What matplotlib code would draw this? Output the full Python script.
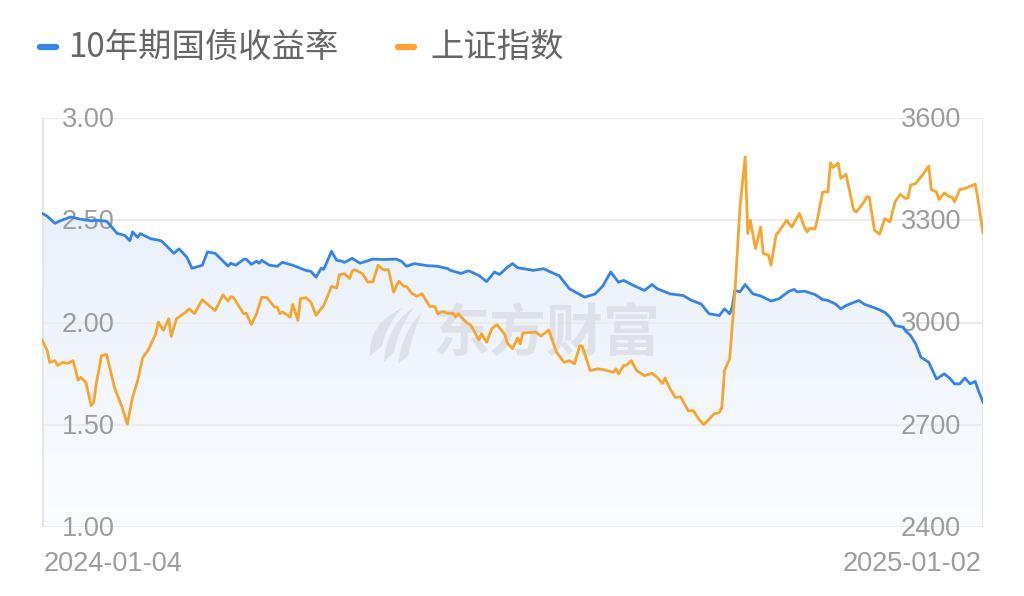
import numpy as np
import pandas as pd
import matplotlib
matplotlib.use('Agg')
import matplotlib.pyplot as plt
import matplotlib.dates as mdates
import matplotlib.transforms as mtrans
from matplotlib.path import Path
from matplotlib.patches import PathPatch
from matplotlib.lines import Line2D
from matplotlib.colors import LinearSegmentedColormap

# ---- data ----
bond_dates = ['2024-01-04', '2024-01-06', '2024-01-09', '2024-01-11', '2024-01-15', '2024-01-19',
              '2024-01-23', '2024-01-25', '2024-01-29', '2024-01-31', '2024-02-02', '2024-02-05',
              '2024-02-07', '2024-02-08', '2024-02-10', '2024-02-11', '2024-02-15', '2024-02-19',
              '2024-02-21', '2024-02-24', '2024-02-26', '2024-02-29', '2024-03-02', '2024-03-06',
              '2024-03-08', '2024-03-11', '2024-03-16', '2024-03-17', '2024-03-19', '2024-03-22',
              '2024-03-23', '2024-03-25', '2024-03-27', '2024-03-28', '2024-03-29', '2024-04-01',
              '2024-04-04', '2024-04-06', '2024-04-10', '2024-04-15', '2024-04-17', '2024-04-19',
              '2024-04-21', '2024-04-22', '2024-04-25', '2024-04-27', '2024-04-29', '2024-04-30',
              '2024-05-03', '2024-05-06', '2024-05-11', '2024-05-15', '2024-05-20', '2024-05-22',
              '2024-05-24', '2024-05-27', '2024-06-01', '2024-06-05', '2024-06-09', '2024-06-10',
              '2024-06-14', '2024-06-17', '2024-06-21', '2024-06-24', '2024-06-27', '2024-06-29',
              '2024-07-02', '2024-07-04', '2024-07-06', '2024-07-12', '2024-07-16', '2024-07-21',
              '2024-07-22', '2024-07-26', '2024-07-29', '2024-08-01', '2024-08-05', '2024-08-08',
              '2024-08-11', '2024-08-14', '2024-08-16', '2024-08-20', '2024-08-24', '2024-08-27',
              '2024-08-29', '2024-09-03', '2024-09-08', '2024-09-11', '2024-09-15', '2024-09-18',
              '2024-09-22', '2024-09-24', '2024-09-26', '2024-09-27', '2024-09-28', '2024-09-30',
              '2024-10-02', '2024-10-05', '2024-10-08', '2024-10-12', '2024-10-15', '2024-10-19',
              '2024-10-21', '2024-10-22', '2024-10-25', '2024-10-29', '2024-11-01', '2024-11-03',
              '2024-11-06', '2024-11-08', '2024-11-10', '2024-11-15', '2024-11-17', '2024-11-22',
              '2024-11-25', '2024-11-27', '2024-11-29', '2024-12-02', '2024-12-03', '2024-12-05',
              '2024-12-07', '2024-12-09', '2024-12-12', '2024-12-15', '2024-12-18', '2024-12-20',
              '2024-12-22', '2024-12-24', '2024-12-26', '2024-12-28', '2024-12-30', '2024-12-31',
              '2025-01-02']
bond_yield = [2.534, 2.52, 2.485, 2.497, 2.516, 2.505,
              2.497, 2.50, 2.495, 2.467, 2.436, 2.426,
              2.40, 2.443, 2.416, 2.435, 2.41, 2.40,
              2.377, 2.338, 2.36, 2.32, 2.265, 2.28,
              2.345, 2.338, 2.276, 2.29, 2.28, 2.309,
              2.31, 2.284, 2.30, 2.29, 2.304, 2.28,
              2.275, 2.294, 2.28, 2.255, 2.25, 2.222,
              2.265, 2.26, 2.348, 2.304, 2.30, 2.294,
              2.314, 2.29, 2.31, 2.308, 2.31, 2.30,
              2.275, 2.288, 2.278, 2.275, 2.263, 2.255,
              2.24, 2.253, 2.23, 2.20, 2.247, 2.235,
              2.27, 2.288, 2.268, 2.255, 2.263, 2.234,
              2.23, 2.165, 2.144, 2.124, 2.14, 2.18,
              2.247, 2.197, 2.206, 2.18, 2.157, 2.186,
              2.165, 2.14, 2.132, 2.11, 2.09, 2.043,
              2.034, 2.067, 2.043, 2.075, 2.157, 2.15,
              2.186, 2.14, 2.13, 2.105, 2.116, 2.153,
              2.162, 2.15, 2.153, 2.137, 2.112, 2.108,
              2.09, 2.067, 2.083, 2.108, 2.09, 2.067,
              2.05, 2.026, 1.985, 1.977, 1.96, 1.936,
              1.895, 1.83, 1.806, 1.724, 1.749, 1.729,
              1.70, 1.70, 1.729, 1.70, 1.712, 1.675,
              1.61]

sh_dates = ['2024-01-04', '2024-01-06', '2024-01-07', '2024-01-09', '2024-01-10', '2024-01-12',
            '2024-01-14', '2024-01-16', '2024-01-18', '2024-01-19', '2024-01-21', '2024-01-23',
            '2024-01-24', '2024-01-25', '2024-01-27', '2024-01-29', '2024-01-30', '2024-02-01',
            '2024-02-03', '2024-02-04', '2024-02-06', '2024-02-08', '2024-02-10', '2024-02-12',
            '2024-02-14', '2024-02-17', '2024-02-18', '2024-02-20', '2024-02-22', '2024-02-23',
            '2024-02-25', '2024-02-28', '2024-03-01', '2024-03-03', '2024-03-06', '2024-03-09',
            '2024-03-11', '2024-03-14', '2024-03-16', '2024-03-17', '2024-03-18', '2024-03-22',
            '2024-03-23', '2024-03-25', '2024-03-27', '2024-03-29', '2024-03-31', '2024-04-03',
            '2024-04-04', '2024-04-05', '2024-04-06', '2024-04-08', '2024-04-09', '2024-04-10',
            '2024-04-12', '2024-04-13', '2024-04-15', '2024-04-17', '2024-04-19', '2024-04-21',
            '2024-04-22', '2024-04-25', '2024-04-27', '2024-04-28', '2024-04-30', '2024-05-02',
            '2024-05-03', '2024-05-04', '2024-05-07', '2024-05-09', '2024-05-11', '2024-05-13',
            '2024-05-15', '2024-05-17', '2024-05-19', '2024-05-21', '2024-05-23', '2024-05-24',
            '2024-05-26', '2024-05-28', '2024-05-30', '2024-06-02', '2024-06-04', '2024-06-05',
            '2024-06-07', '2024-06-09', '2024-06-11', '2024-06-12', '2024-06-13', '2024-06-16',
            '2024-06-18', '2024-06-21', '2024-06-22', '2024-06-24', '2024-06-26', '2024-06-28',
            '2024-07-01', '2024-07-02', '2024-07-04', '2024-07-06', '2024-07-07', '2024-07-08',
            '2024-07-13', '2024-07-15', '2024-07-18', '2024-07-21', '2024-07-24', '2024-07-26',
            '2024-07-28', '2024-07-30', '2024-07-31', '2024-08-03', '2024-08-06', '2024-08-08',
            '2024-08-12', '2024-08-13', '2024-08-14', '2024-08-16', '2024-08-17', '2024-08-19',
            '2024-08-21', '2024-08-24', '2024-08-27', '2024-08-29', '2024-08-31', '2024-09-01',
            '2024-09-03', '2024-09-05', '2024-09-07', '2024-09-10', '2024-09-12', '2024-09-14',
            '2024-09-16', '2024-09-20', '2024-09-22', '2024-09-23', '2024-09-24', '2024-09-26',
            '2024-09-28', '2024-09-30', '2024-10-02', '2024-10-03', '2024-10-04', '2024-10-06',
            '2024-10-08', '2024-10-09', '2024-10-11', '2024-10-12', '2024-10-14', '2024-10-15',
            '2024-10-18', '2024-10-20', '2024-10-23', '2024-10-25', '2024-10-26', '2024-10-27',
            '2024-10-29', '2024-10-30', '2024-11-01', '2024-11-03', '2024-11-04', '2024-11-05',
            '2024-11-07', '2024-11-08', '2024-11-10', '2024-11-13', '2024-11-14', '2024-11-17',
            '2024-11-18', '2024-11-19', '2024-11-21', '2024-11-23', '2024-11-25', '2024-11-27',
            '2024-11-29', '2024-12-01', '2024-12-03', '2024-12-04', '2024-12-05', '2024-12-07',
            '2024-12-09', '2024-12-10', '2024-12-12', '2024-12-13', '2024-12-15', '2024-12-16',
            '2024-12-18', '2024-12-20', '2024-12-21', '2024-12-22', '2024-12-24', '2024-12-26',
            '2024-12-30', '2024-12-31', '2025-01-02']
sh_index = [2949, 2918, 2883, 2888, 2874, 2883,
            2880, 2888, 2831, 2839, 2824, 2756,
            2766, 2820, 2903, 2906, 2874, 2810,
            2771, 2751, 2702, 2780, 2829, 2898,
            2918, 2967, 3001, 2977, 3011, 2959,
            3011, 3027, 3040, 3026, 3067, 3047,
            3035, 3081, 3063, 3076, 3074, 3026,
            3027, 2994, 3026, 3074, 3073, 3045,
            3045, 3026, 3031, 3021, 3016, 3053,
            3006, 3070, 3073, 3060, 3021, 3040,
            3050, 3106, 3101, 3140, 3143, 3129,
            3151, 3155, 3143, 3119, 3119, 3168,
            3155, 3155, 3089, 3121, 3106, 3106,
            3086, 3077, 3084, 3047, 3047, 3026,
            3032, 3027, 3027, 3016, 3026, 3001,
            2991, 2949, 2967, 2942, 2982, 2994,
            2965, 2940, 2923, 2955, 2937, 2969,
            2972, 2960, 2978, 2913, 2883, 2888,
            2879, 2932, 2930, 2859, 2864, 2862,
            2854, 2864, 2849, 2874, 2874, 2888,
            2859, 2844, 2851, 2839, 2821, 2837,
            2805, 2780, 2782, 2741, 2741, 2717,
            2700, 2732, 2736, 2751, 2859, 2893,
            3084, 3339, 3486, 3261, 3300, 3217,
            3280, 3202, 3198, 3168, 3258, 3266,
            3300, 3280, 3320, 3279, 3266, 3276,
            3274, 3305, 3383, 3383, 3469, 3455,
            3467, 3423, 3435, 3329, 3324, 3354,
            3369, 3368, 3271, 3259, 3305, 3295,
            3354, 3376, 3364, 3366, 3403, 3408,
            3427, 3437, 3459, 3390, 3383, 3361,
            3380, 3369, 3368, 3354, 3390, 3393,
            3406, 3364, 3263]

left_ticks = [1.00, 1.50, 2.00, 2.50, 3.00]
right_ticks = [2400, 2700, 3000, 3300, 3600]
date_labels = ['2024-01-04', '2025-01-02']
series_names = ['10年期国债收益率', '上证指数']

BLUE = '#3584e4'
ORANGE = '#f7a52c'
GRID = '#ececec'
LABEL = '#9c9c9c'

bx = pd.to_datetime(bond_dates)
sx = pd.to_datetime(sh_dates)
x0, x1 = pd.Timestamp(date_labels[0]), pd.Timestamp(date_labels[1])

fig = plt.figure(figsize=(10.24, 5.96), dpi=100)
ax = fig.add_axes([42 / 1024, 69 / 596, 941 / 1024, 409 / 596])
ax2 = ax.twinx()

ax.set_xlim(x0, x1)
ax.set_ylim(left_ticks[0], left_ticks[-1])
ax2.set_ylim(right_ticks[0], right_ticks[-1])

for a in (ax, ax2):
    a.set_xticks([])
    a.set_yticks([])
    for s in a.spines.values():
        s.set_visible(False)

# gradient area under the yield line
poly = ax.fill_between(bx, bond_yield, left_ticks[0], color='none', lw=0)
cmap = LinearSegmentedColormap.from_list('fade', ['#fafcff', '#e9f0fb'])
grad = np.linspace(0, 1, 256).reshape(-1, 1)
im = ax.imshow(grad, cmap=cmap, origin='lower', aspect='auto', zorder=0.2,
               extent=[mdates.date2num(x0), mdates.date2num(x1), left_ticks[0], max(bond_yield)])
im.set_clip_path(poly.get_paths()[0], transform=ax.transData)
ax.set_xlim(x0, x1)
ax.set_ylim(left_ticks[0], left_ticks[-1])

# frame and grid (drawn over the fill)
for v in left_ticks:
    ax.axhline(v, color=GRID, lw=1.5, zorder=0.5)
ax.axvline(x0, color='#e6e6e6', lw=2, zorder=0.5)
ax.axvline(x1, color='#e6e6e6', lw=2, zorder=0.5)

# watermark
ax.text(0.415, 0.472, '东方财富', transform=ax.transAxes, fontsize=41, fontweight='bold',
        family=['Noto Sans CJK SC'], color='#dcdee6', alpha=0.85, ha='left', va='center', zorder=1.5)
pix = mtrans.Affine2D().scale(1, -1).translate(0, 596)
blades = [
    [(370, 356), (368, 324), (402, 308), (386, 326), (382, 346), (370, 356)],
    [(384, 362), (386, 326), (414, 307), (398, 330), (394, 352), (384, 362)],
    [(398, 364), (402, 332), (422, 312), (412, 336), (408, 356), (398, 364)],
]
for b in blades:
    codes = [Path.MOVETO, Path.CURVE3, Path.CURVE3, Path.CURVE3, Path.CURVE3, Path.CLOSEPOLY]
    p = PathPatch(Path(b, codes), transform=pix, facecolor='#dcdee6', edgecolor='none',
                  alpha=0.85, zorder=1.5)
    p.set_clip_on(False)
    ax.add_patch(p)

# tick labels inside the plot (nudged 2px down so the digits sit centred on the grid line)
nudge = mtrans.ScaledTranslation(0, -2 / 100, fig.dpi_scale_trans)
tf_left = mtrans.blended_transform_factory(ax.transAxes, ax.transData) + nudge
tf_right = mtrans.blended_transform_factory(ax.transAxes, ax2.transData) + nudge
for v in left_ticks:
    ax.text(20 / 941, v, '%.2f' % v, transform=tf_left, ha='left', va='center',
            fontsize=19.5, color=LABEL, family='Liberation Sans', zorder=0.8)
for v in right_ticks:
    ax.text(1 - 22 / 941, v, '%d' % v, transform=tf_right, ha='right', va='center',
            fontsize=19.5, color=LABEL, family='Liberation Sans', zorder=0.8)

# lines
ax.plot(bx, bond_yield, color=BLUE, lw=2.0, zorder=3, solid_joinstyle='round')
ax2.plot(sx, sh_index, color=ORANGE, lw=2.0, zorder=3, solid_joinstyle='round')

# date labels
fig.text(44 / 1024, 1 - 564 / 596, date_labels[0], ha='left', va='center',
         fontsize=19.5, color=LABEL, family='Liberation Sans')
fig.text(981 / 1024, 1 - 564 / 596, date_labels[1], ha='right', va='center',
         fontsize=19.5, color=LABEL, family='Liberation Sans')

# legend
for (lx0, lx1, tx), name, col in zip([(40, 56, 68), (398, 414, 430)], series_names, [BLUE, ORANGE]):
    fig.add_artist(Line2D([lx0 / 1024, lx1 / 1024], [1 - 47 / 596] * 2, color=col, lw=4.5,
                          solid_capstyle='round', transform=fig.transFigure))
    fig.text(tx / 1024, 1 - 47 / 596, name, ha='left', va='center', fontsize=24,
             color='#666666', family=['Noto Sans CJK SC', 'DejaVu Sans'])

fig.savefig('out.png', dpi=100)
